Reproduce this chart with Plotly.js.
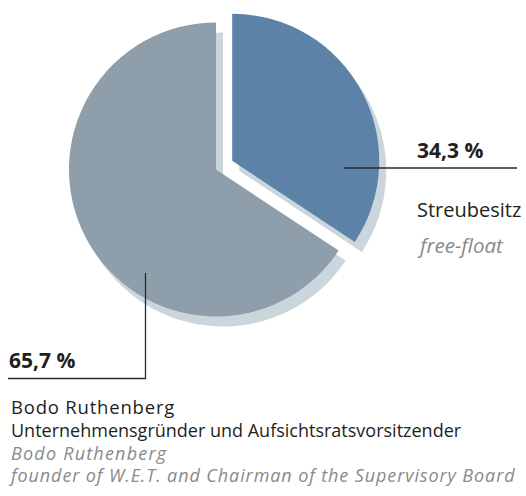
<!DOCTYPE html>
<html>
<head>
<meta charset="utf-8">
<script src="https://cdn.plot.ly/plotly-3.0.1.min.js"></script>
<style>html,body{margin:0;padding:0;background:#fff;}#chart{width:526px;height:496px;}</style>
</head>
<body>
<div id="chart"></div>
<script>
// ---- data ----
const labels = ["Streubesitz", "Bodo Ruthenberg"];
const values = [34.3, 65.7];
const sliceColors = ["#5d82a8", "#8e9fab"];
const shadowColors = ["#cbd5dc", "#cbd5dc"];
const pulls = [0.125, 0];
const valueLabels = ["34,3 %", "65,7 %"];
const streuLines = ["Streubesitz", "free-float"];
const bodoLines = ["Bodo Ruthenberg", "Unternehmensgründer und Aufsichtsratsvorsitzender", "Bodo Ruthenberg", "founder of W.E.T. and Chairman of the Supervisory Board"];

// ---- layout helpers (pixels -> paper) ----
const W = 526, H = 496;
const px = x => x / W;
const py = y => 1 - y / H;
function dom(cx, cy, half) {
  return { x: [px(cx - half), px(cx + half)], y: [py(cy + half), py(cy - half)] };
}
const FONT = '"Open Sans", "Noto Sans", sans-serif';
const DARK = '#231f20', GREY = '#8a8a8a';

const shadow = {
  type: 'pie', labels: labels, values: values, sort: false,
  direction: 'clockwise', rotation: 0, pull: pulls,
  textinfo: 'none', hoverinfo: 'skip', showlegend: false,
  marker: { colors: shadowColors, line: { width: 0 } },
  domain: dom(223, 179.5, 165.4)
};
const main = {
  type: 'pie', labels: labels, values: values, sort: false,
  direction: 'clockwise', rotation: 0, pull: pulls,
  textinfo: 'none', hoverinfo: 'skip', showlegend: false,
  marker: { colors: sliceColors, line: { width: 0 } },
  domain: dom(216, 169.5, 165.4)
};

function ann(text, x, y, size, color) {
  return { xref: 'paper', yref: 'paper', x: px(x), y: py(y),
    xanchor: 'left', yanchor: 'middle', showarrow: false, text: text, borderpad: 0,
    align: 'left', font: { family: FONT, size: size, color: color } };
}
function span(t, size, color, italic, ls) {
  const s = '<span style="font-size:' + size + 'px;fill:' + color + ';letter-spacing:' + ls + 'px">' + t + '</span>';
  return italic ? '<i>' + s + '</i>' : s;
}
const bodoText = [
  span(bodoLines[0], 18.5, DARK, false, 0.8),
  span(bodoLines[1], 18, DARK, false, 0),
  span(bodoLines[2], 18, GREY, true, 1.2),
  span(bodoLines[3], 18, GREY, true, 0.9)
].join('<br>');

const annotations = [
  ann('<b>' + valueLabels[0] + '</b>', 416, 149.5, 21, DARK),
  ann(streuLines[0], 416, 209.5, 20, DARK),
  ann('<i>' + streuLines[1] + '</i>', 416, 244.5, 20.5, GREY),
  ann('<b>' + valueLabels[1] + '</b>', 8, 359.5, 21, DARK),
  ann(bodoText, 7, 440.5, 17.5, DARK)
];
const lineStyle = { color: '#2a2a2a', width: 1.3 };
const shapes = [
  { type: 'line', xref: 'paper', yref: 'paper', x0: px(344), x1: px(517), y0: py(168), y1: py(168), line: lineStyle },
  { type: 'path', xref: 'paper', yref: 'paper',
    path: 'M ' + px(145.5) + ' ' + py(273) + ' L ' + px(145.5) + ' ' + py(378.5) + ' L ' + px(8) + ' ' + py(378.5),
    line: lineStyle }
];

Plotly.newPlot('chart', [shadow, main], {
  width: W, height: H, margin: { l: 0, r: 0, t: 0, b: 0 },
  paper_bgcolor: '#fff', plot_bgcolor: '#fff',
  annotations: annotations, shapes: shapes
}, { staticPlot: true, displayModeBar: false });
</script>
</body>
</html>
